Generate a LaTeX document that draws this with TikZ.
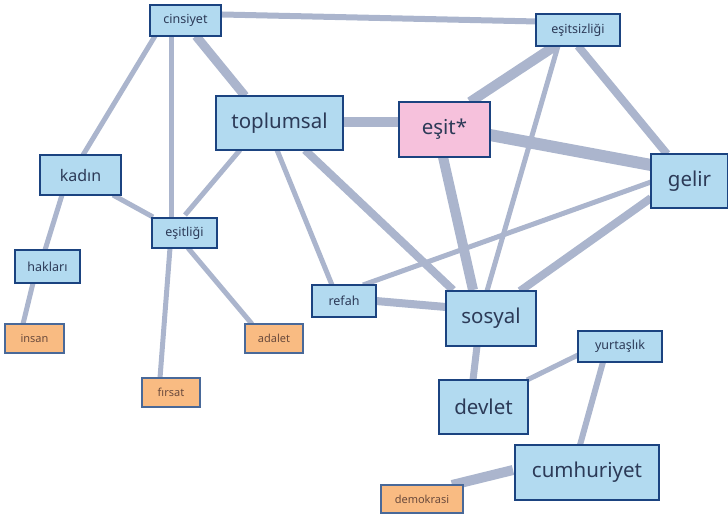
\documentclass[tikz,border=0pt]{standalone}
\usepackage{fontspec}
\setmainfont{Noto Sans}
\definecolor{edgec}{HTML}{ABB5CD}
\definecolor{bluef}{HTML}{B2DAF0}
\definecolor{bluedr}{HTML}{1B4380}
\definecolor{pinkf}{HTML}{F6C1DC}
\definecolor{orangef}{HTML}{F9BB82}
\definecolor{txt}{HTML}{2C3A57}
\definecolor{otxt}{HTML}{6A4A3C}
\pgfdeclarelayer{bg}
\pgfsetlayers{bg,main}
\begin{document}
\begin{tikzpicture}[x=1pt,y=-1pt,
  box/.style={draw=bluedr,line width=1.5pt,fill=bluef,text=txt,inner sep=0pt,anchor=center},
  big/.style={box,font=\fontsize{20.5}{24}\selectfont},
  mid/.style={box,font=\fontsize{16}{19}\selectfont},
  small/.style={box,font=\fontsize{12.5}{15}\selectfont},
  leaf/.style={draw=bluedr!80,line width=1.2pt,fill=orangef,text=otxt,inner sep=0pt,font=\fontsize{11}{13}\selectfont},
  ed/.style={draw=edgec,line width=#1},
]
\useasboundingbox (0,0) rectangle (728,517);
% nodes
\node[small,minimum width=71pt,minimum height=31pt] (C) at (185.5,20.5) {cinsiyet};
\node[small,minimum width=84pt,minimum height=32pt] (E) at (578,30) {eşitsizliği};
\node[big,minimum width=127pt,minimum height=54pt] (T) at (279.5,123) {toplumsal};
\node[big,fill=pinkf,minimum width=91pt,minimum height=55pt] (S) at (444.5,129.5) {eşit*};
\node[big,minimum width=77pt,minimum height=54pt] (G) at (689.5,181) {gelir};
\node[mid,minimum width=81pt,minimum height=40pt] (K) at (80.5,175) {kadın};
\node[small,minimum width=65pt,minimum height=30pt] (Q) at (184.5,233) {eşitliği};
\node[small,minimum width=65pt,minimum height=33pt] (H) at (47.5,266.5) {hakları};
\node[leaf,minimum width=59pt,minimum height=29pt] (I) at (34.5,338.5) {insan};
\node[small,minimum width=64pt,minimum height=32pt] (R) at (344,301) {refah};
\node[big,minimum width=90pt,minimum height=55pt] (Y) at (491,318.5) {sosyal};
\node[leaf,minimum width=58pt,minimum height=29pt] (A) at (274,338.5) {adalet};
\node[leaf,minimum width=58pt,minimum height=29pt] (F) at (171,392.5) {fırsat};
\node[small,minimum width=84pt,minimum height=31pt] (U) at (620,346.5) {yurtaşlık};
\node[big,minimum width=89pt,minimum height=54pt] (D) at (483.5,407) {devlet};
\node[big,minimum width=144pt,minimum height=55pt] (M) at (587,472.5) {cumhuriyet};
\node[leaf,minimum width=82pt,minimum height=28pt] (O) at (422,499) {demokrasi};
% edges
\begin{pgfonlayer}{bg}
\draw[ed=6pt] ([shift={(14.5,-6.5)}]C.center) -- ([shift={(-18,-8)}]E.center);
\draw[ed=5pt] ([shift={(-30.5,15.5)}]C.center) -- ([shift={(2.5,-20)}]K.center);
\draw[ed=5pt] ([shift={(-14.5,10)}]C.center) -- ([shift={(-13.5,-8)}]Q.center);
\draw[ed=9pt] ([shift={(10.5,15.5)}]C.center) -- ([shift={(-34.5,-27)}]T.center);
\draw[ed=10pt] ([shift={(50,-1)}]T.center) -- ([shift={(-34,-7.5)}]S.center);
\draw[ed=5pt] ([shift={(-39.5,27)}]T.center) -- ([shift={(0.5,-18)}]Q.center);
\draw[ed=5pt] ([shift={(-2.5,27)}]T.center) -- ([shift={(-12,-16)}]R.center);
\draw[ed=8pt] ([shift={(25.5,27)}]T.center) -- ([shift={(-38,-28.5)}]Y.center);
\draw[ed=10pt] ([shift={(-1.5,27.5)}]S.center) -- ([shift={(-18,-28.5)}]Y.center);
\draw[ed=10pt] ([shift={(25.5,-27.5)}]S.center) -- ([shift={(-23,16)}]E.center);
\draw[ed=12pt] ([shift={(45.5,5.5)}]S.center) -- ([shift={(-38.5,-16)}]G.center);
\draw[ed=8pt] ([shift={(0,16)}]E.center) -- ([shift={(-22.5,-27)}]G.center);
\draw[ed=5pt] ([shift={(-20,16)}]E.center) -- ([shift={(-4,-27.5)}]Y.center);
\draw[ed=5pt] ([shift={(-38.5,1)}]G.center) -- ([shift={(19,-16)}]R.center);
\draw[ed=8pt] ([shift={(-38.5,17)}]G.center) -- ([shift={(29,-27.5)}]Y.center);
\draw[ed=5pt] ([shift={(32.5,20)}]K.center) -- ([shift={(-31.5,-16)}]Q.center);
\draw[ed=5pt] ([shift={(-18.5,20)}]K.center) -- ([shift={(-2.5,-16.5)}]H.center);
\draw[ed=5pt] ([shift={(-14.5,16.5)}]H.center) -- ([shift={(-11.5,-14.5)}]I.center);
\draw[ed=5pt] ([shift={(-14.5,15)}]Q.center) -- ([shift={(-11,-14.5)}]F.center);
\draw[ed=5pt] ([shift={(3.5,15)}]Q.center) -- ([shift={(-22,-14.5)}]A.center);
\draw[ed=8pt] ([shift={(32,0)}]R.center) -- ([shift={(-45,-11.5)}]Y.center);
\draw[ed=7pt] ([shift={(-14,27.5)}]Y.center) -- ([shift={(-10.5,-27)}]D.center);
\draw[ed=5pt] ([shift={(43.5,-27)}]D.center) -- ([shift={(-42,8.5)}]U.center);
\draw[ed=6pt] ([shift={(-17,15.5)}]U.center) -- ([shift={(-7,-27.5)}]M.center);
\draw[ed=10pt] ([shift={(-74,-2.5)}]M.center) -- ([shift={(30,-14)}]O.center);
\end{pgfonlayer}
\end{tikzpicture}
\end{document}
